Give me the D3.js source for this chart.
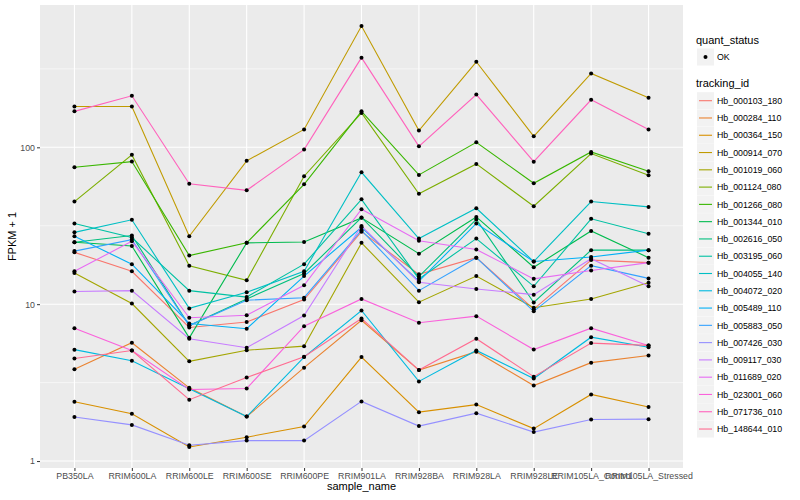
<!DOCTYPE html>
<html>
<head>
<meta charset="utf-8">
<script src="https://cdn.jsdelivr.net/npm/d3@7"></script>
<style>
  body { margin: 0; background: #fff; }
  text { font-family: "Liberation Sans", Arial, sans-serif; }
</style>
</head>
<body>
<div id="chart"></div>
<script>
// categories on the x axis
var samples = ["PB350LA", "RRIM600LA", "RRIM600LE", "RRIM600SE", "RRIM600PE", "RRIM901LA",
  "RRIM928BA", "RRIM928LA", "RRIM928LE", "RRIM105LA_Control", "RRIM105LA_Stressed"];

// series names and their ggplot hue colours
var trackingIds = ["Hb_000103_180", "Hb_000284_110", "Hb_000364_150", "Hb_000914_070", "Hb_001019_060",
  "Hb_001124_080", "Hb_001266_080", "Hb_001344_010", "Hb_002616_050", "Hb_003195_060",
  "Hb_004055_140", "Hb_004072_020", "Hb_005489_110", "Hb_005883_050", "Hb_007426_030",
  "Hb_009117_030", "Hb_011689_020", "Hb_023001_060", "Hb_071736_010", "Hb_148644_010"];
var colors = ["#F8766D", "#EA8331", "#D89000", "#C09B00", "#A3A500", "#7CAE00", "#39B600", "#00BB4E",
  "#00BF7D", "#00C1A3", "#00BFC4", "#00BAE0", "#00B0F6", "#35A2FF", "#9590FF", "#C77CFF",
  "#E76BF3", "#FA62DB", "#FF62BC", "#FF6C91"];

// FPKM + 1 values, one array per tracking id (same order as samples)
var fpkm = [
  [21.4, 16.2, 7.11, 7.7, 10.7, 29.0, 15.5, 19.8, 9.3, 19.1, 18.4],
  [3.85, 5.68, 2.93, 1.92, 3.94, 7.9, 3.80, 4.98, 3.03, 4.24, 4.71],
  [2.39, 2.00, 1.23, 1.42, 1.66, 4.60, 2.05, 2.29, 1.61, 2.66, 2.21],
  [182, 182, 27.1, 82, 130, 593, 128, 351, 117.5, 296, 207],
  [15.8, 10.1, 4.32, 5.09, 5.40, 24.6, 10.3, 15.1, 9.49, 10.8, 13.7],
  [45.1, 89.5, 17.6, 14.2, 65.4, 165.6, 50.5, 78.4, 42.1, 91.2, 66.3],
  [74.6, 81.1, 20.4, 24.6, 58.1, 169.5, 66.7, 107.6, 59.0, 93.5, 70.3],
  [24.8, 23.5, 6.1, 24.6, 24.9, 35.5, 21.0, 36.0, 17.2, 29.3, 19.8],
  [24.8, 27.4, 7.31, 10.8, 15.7, 35.7, 15.0, 34.7, 10.25, 22.1, 22.1],
  [32.7, 26.6, 12.2, 11.1, 18.0, 46.6, 14.5, 26.2, 13.0, 35.0, 28.1],
  [28.7, 34.5, 9.4, 11.9, 16.2, 69.3, 26.2, 40.9, 18.7, 45.1, 41.7],
  [5.13, 4.36, 2.89, 1.92, 4.6, 9.12, 3.22, 5.07, 3.36, 6.16, 5.32],
  [27.1, 18.0, 7.54, 6.97, 15.1, 30.9, 14.0, 32.7, 18.7, 20.0, 22.1],
  [21.8, 25.8, 7.31, 10.6, 11.0, 29.6, 12.2, 19.8, 9.0, 17.6, 14.6],
  [1.91, 1.70, 1.26, 1.35, 1.35, 2.40, 1.67, 2.02, 1.53, 1.84, 1.85],
  [12.05, 12.2, 6.02, 5.28, 8.47, 31.5, 13.8, 12.5, 11.5, 19.5, 13.0],
  [16.2, 25.2, 8.19, 8.5, 13.2, 40.3, 25.4, 22.3, 14.5, 16.4, 18.4],
  [7.03, 5.07, 2.86, 2.90, 7.24, 10.8, 7.61, 8.39, 5.14, 7.03, 5.46],
  [169.5, 213, 58.5, 53.2, 96.7, 373, 101.5, 217, 81, 201, 130],
  [4.51, 5.07, 2.46, 3.41, 4.62, 8.11, 3.80, 6.02, 3.45, 5.65, 5.46]
];

var yMajor = [1, 10, 100];
var yMinor = [Math.sqrt(10), Math.sqrt(1000), Math.sqrt(100000)];

var svgWidth = 800;
var svgHeight = 500;
var panel = { left: 40, right: 683, top: 5, bottom: 468 };

var svg = d3.select("#chart")
  .append("svg")
  .attr("width", svgWidth)
  .attr("height", svgHeight);

// x: discrete, ggplot-like 0.6 expansion
var xScale = d3.scalePoint()
  .domain(samples)
  .range([panel.left, panel.right])
  .padding(0.6);

// y: log10 with 5% expansion of the data range
var allVals = d3.merge(fpkm);
var lo = Math.log10(d3.min(allVals)), hi = Math.log10(d3.max(allVals));
var pad = (hi - lo) * 0.05;
var yScale = d3.scaleLog()
  .domain([Math.pow(10, lo - pad), Math.pow(10, hi + pad)])
  .range([panel.bottom, panel.top]);

// panel background
svg.append("rect")
  .attr("x", panel.left).attr("y", panel.top)
  .attr("width", panel.right - panel.left)
  .attr("height", panel.bottom - panel.top)
  .attr("fill", "#EBEBEB");

// grid
svg.selectAll("line.minor").data(yMinor).enter().append("line")
  .attr("x1", panel.left).attr("x2", panel.right)
  .attr("y1", d => yScale(d)).attr("y2", d => yScale(d))
  .attr("stroke", "#fff").attr("stroke-width", 0.55);
svg.selectAll("line.major").data(yMajor).enter().append("line")
  .attr("x1", panel.left).attr("x2", panel.right)
  .attr("y1", d => yScale(d)).attr("y2", d => yScale(d))
  .attr("stroke", "#fff").attr("stroke-width", 1.1);
svg.selectAll("line.vmajor").data(samples).enter().append("line")
  .attr("x1", d => xScale(d)).attr("x2", d => xScale(d))
  .attr("y1", panel.top).attr("y2", panel.bottom)
  .attr("stroke", "#fff").attr("stroke-width", 1.1);

// axes
var leftAxis = d3.axisLeft(yScale).tickValues(yMajor).tickFormat(d3.format("d")).tickSize(3).tickPadding(2);
var bottomAxis = d3.axisBottom(xScale).tickSize(3).tickPadding(2);

var gy = svg.append("g").attr("transform", `translate(${panel.left},0)`).call(leftAxis);
var gx = svg.append("g").attr("transform", `translate(0,${panel.bottom})`).call(bottomAxis);
[gx, gy].forEach(function(g) {
  g.select(".domain").remove();
  g.selectAll(".tick line").attr("stroke", "#333333");
  g.selectAll(".tick text").attr("fill", "#4D4D4D").style("font-size", "8.8px")
    .style("font-family", "'Liberation Sans', Arial, sans-serif");
});

svg.append("text")
  .attr("x", (panel.left + panel.right) / 2)
  .attr("y", 490)
  .style("text-anchor", "middle")
  .style("font-size", "11px")
  .text("sample_name");

svg.append("text")
  .attr("transform", `translate(16,${(panel.top + panel.bottom) / 2}) rotate(-90)`)
  .style("text-anchor", "middle")
  .style("font-size", "11px")
  .text("FPKM + 1");

// lines
var line = d3.line()
  .x((d, i) => xScale(samples[i]))
  .y(d => yScale(d));

svg.selectAll("path.series").data(fpkm).enter().append("path")
  .attr("class", "series")
  .attr("d", d => line(d))
  .attr("fill", "none")
  .attr("stroke", (d, i) => colors[i])
  .attr("stroke-width", 1.1);

// points
fpkm.forEach(function(vals) {
  svg.append("g").selectAll("circle").data(vals).enter().append("circle")
    .attr("cx", (d, i) => xScale(samples[i]))
    .attr("cy", d => yScale(d))
    .attr("r", 2)
    .attr("fill", "#000");
});

// legend
var lg = svg.append("g");
lg.append("text").attr("x", 696).attr("y", 44).style("font-size", "11px").text("quant_status");
lg.append("rect").attr("x", 697).attr("y", 48.5).attr("width", 17).attr("height", 17).attr("fill", "#F2F2F2");
lg.append("circle").attr("cx", 705.5).attr("cy", 57).attr("r", 2).attr("fill", "#000");
lg.append("text").attr("x", 717).attr("y", 60).style("font-size", "8.8px").text("OK");

lg.append("text").attr("x", 696).attr("y", 87).style("font-size", "11px").text("tracking_id");
var step = 17.28;
var items = lg.selectAll("g.item").data(trackingIds).enter().append("g")
  .attr("transform", (d, i) => `translate(697,${100.7 + i * step})`);
items.append("rect").attr("x", 0).attr("y", -8.5).attr("width", 17).attr("height", 17).attr("fill", "#F2F2F2");
items.append("line").attr("x1", 2).attr("x2", 15).attr("y1", 0).attr("y2", 0)
  .attr("stroke", (d, i) => colors[i]).attr("stroke-width", 1.1);
items.append("text").attr("x", 20).attr("y", 3.2).style("font-size", "8.8px").text(d => d);
</script>
</body>
</html>
